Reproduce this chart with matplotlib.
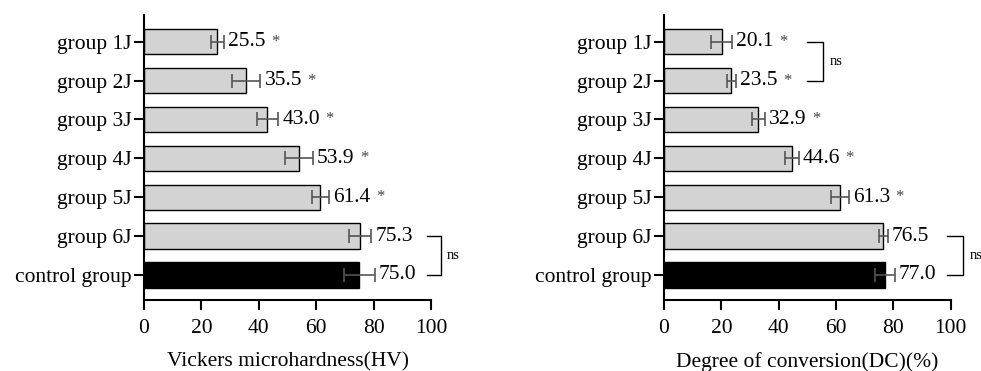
import numpy as np
import matplotlib.pyplot as plt

plt.rcParams['font.family'] = ['Liberation Serif', 'DejaVu Serif']

groups = ['group 1J', 'group 2J', 'group 3J', 'group 4J', 'group 5J', 'group 6J', 'control group']

hv_mean = [25.5, 35.5, 43.0, 53.9, 61.4, 75.3, 75.0]
hv_err = [2.2, 5.0, 3.7, 4.8, 3.0, 3.9, 5.3]
hv_sig = ['*', '*', '*', '*', '*', '', '']

dc_mean = [20.1, 23.5, 32.9, 44.6, 61.3, 76.5, 77.0]
dc_err = [3.7, 1.6, 2.3, 2.3, 3.1, 1.5, 3.5]
dc_sig = ['*', '*', '*', '*', '*', '', '']

fig = plt.figure(figsize=(9.81, 3.71), dpi=100)
ax1 = fig.add_axes([0.1468, 0.1914, 0.2926, 0.768])
ax2 = fig.add_axes([0.6769, 0.1914, 0.2923, 0.768])

FS = 15.5


def panel(ax, means, errs, sigs, xlabel):
    y = np.arange(len(groups))
    colors = ['#d3d3d3'] * (len(groups) - 1) + ['black']
    ax.barh(y, means, height=0.65, color=colors, edgecolor='black', linewidth=1)
    ax.errorbar(means, y, xerr=errs, fmt='none', ecolor='#555555',
                elinewidth=1.2, capsize=5, capthick=1.2)
    for i in range(len(groups)):
        t = ax.annotate(f'{means[i]:.1f}', xy=(means[i] + errs[i], i),
                        xytext=(3, 0), textcoords='offset points',
                        ha='left', va='center', fontsize=FS)
        if sigs[i]:
            ax.annotate(sigs[i], xy=(1, 0.5), xycoords=t, xytext=(7, 0),
                        textcoords='offset points', ha='center', va='center',
                        fontsize=12, color='#444444')
    ax.set_yticks(y)
    ax.set_yticklabels(groups, fontsize=FS)
    ax.set_ylim(6.643, -0.686)
    ax.set_xlim(0, 100)
    ax.set_xticks([0, 20, 40, 60, 80, 100])
    ax.tick_params(axis='both', labelsize=FS, length=7, width=1.5)
    ax.tick_params(axis='y', pad=2)
    ax.tick_params(axis='x', pad=7)
    ax.spines['top'].set_visible(False)
    ax.spines['right'].set_visible(False)
    ax.spines['left'].set_linewidth(1.5)
    ax.spines['bottom'].set_linewidth(1.5)
    ax.set_xlabel(xlabel, fontsize=FS, labelpad=10)


def bracket(ax, x0, x1, ya, yb, xt):
    ax.plot([x0, x1, x1, x0], [ya, ya, yb, yb], color='black', lw=1, clip_on=False)
    ax.text(xt, (ya + yb) / 2, 'ns', fontsize=10.5, ha='left', va='center', clip_on=False)


panel(ax1, hv_mean, hv_err, hv_sig, 'Vickers microhardness(HV)')
panel(ax2, dc_mean, dc_err, dc_sig, 'Degree of conversion(DC)(%)')

bracket(ax1, 98.5, 103.3, 5, 6, 105.5)
bracket(ax2, 49.8, 55.4, 0, 1, 57.8)
bracket(ax2, 98.6, 104.2, 5, 6, 106.5)

fig.savefig('out.png', dpi=100)
